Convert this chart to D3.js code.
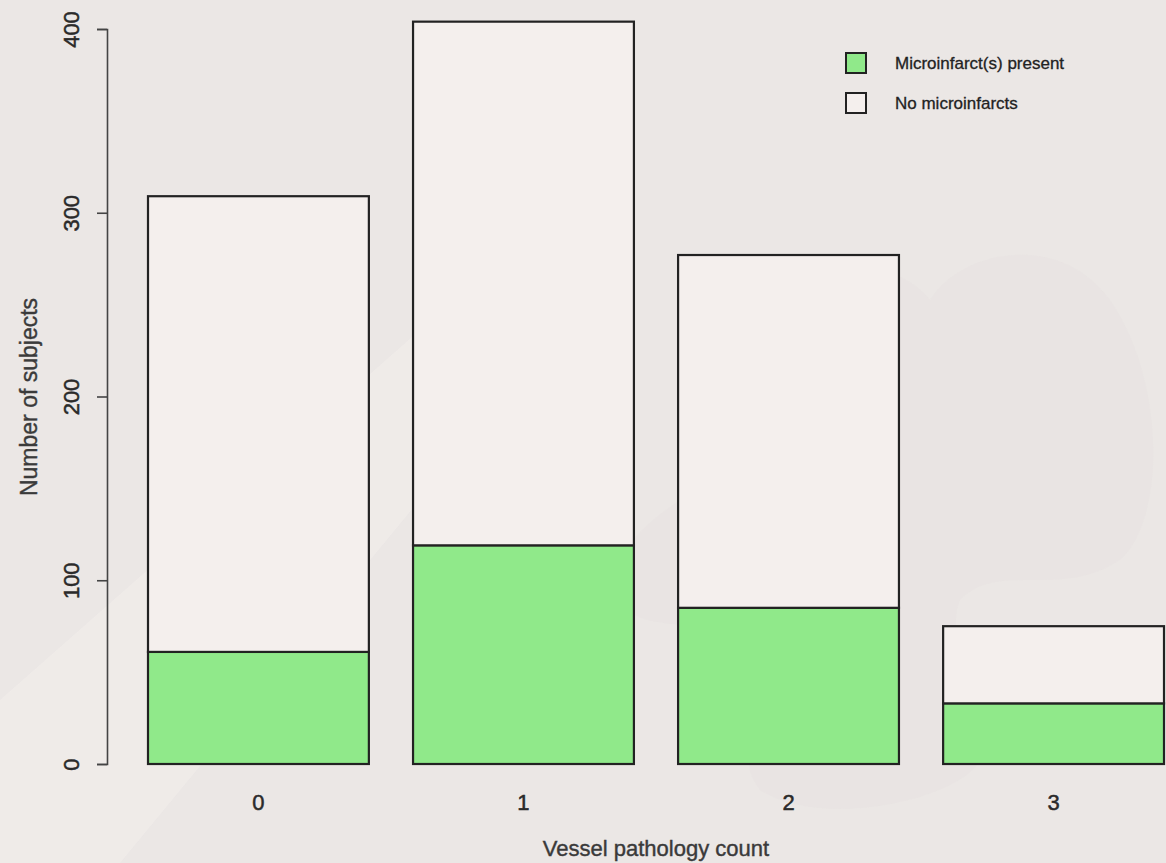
<!DOCTYPE html>
<html>
<head>
<meta charset="utf-8">
<script src="https://cdn.jsdelivr.net/npm/d3@7"></script>
<style>
  html, body { margin: 0; padding: 0; background: #ebe7e5; }
  svg { display: block; font-family: "Liberation Sans", Arial, sans-serif; }
</style>
</head>
<body>
<svg id="chart" width="1166" height="863"></svg>
<script>
// Vessel pathology count vs. number of subjects, split by microinfarct status
const categories = ["0", "1", "2", "3"];
const microinfarcts = [61, 119, 85, 33];
const noMicroinfarcts = [248, 285, 192, 42];
const yTicks = [0, 100, 200, 300, 400];
const seriesNames = ["Microinfarct(s) present", "No microinfarcts"];
const seriesColors = ["#90e98a", "#f4efed"];

const svg = d3.select("#chart");
const W = 1166, H = 863;

// soft background decoration
const bg = svg.append("g");
bg.append("rect").attr("width", W).attr("height", H).attr("fill", "#ebe7e5");
bg.append("path")
  .attr("d", "M0,700 L420,330 L560,330 L120,863 L0,863 Z")
  .attr("fill", "#f1ecea").attr("opacity", 0.7);
bg.append("path")
  .attr("d", "M760,300 C820,250 900,260 930,300 C960,250 1060,230 1110,300 C1166,380 1166,520 1120,560 C1060,600 1000,560 960,600 C940,650 1000,700 980,760 C960,800 820,830 760,790 C720,740 800,690 760,650 C720,610 640,640 620,600 C600,540 680,500 730,470 C780,440 700,360 760,300 Z")
  .attr("fill", "#e4e0df").attr("opacity", 0.35);

const data = categories.map((c, i) => ({
  cat: c,
  values: [microinfarcts[i], noMicroinfarcts[i]]
}));
const stack = d3.stack().keys([0, 1]).value((d, k) => d.values[k]);
const layers = stack(data);

const x = d3.scaleBand().domain(categories).range([148, 1164]).paddingInner(1 / 6).paddingOuter(0);
const y = d3.scaleLinear().domain([0, 400]).range([764, 29]);

// bars
layers.forEach((layer, k) => {
  svg.append("g").selectAll("rect").data(layer).join("rect")
    .attr("x", d => x(d.data.cat))
    .attr("width", x.bandwidth())
    .attr("y", d => y(d[1]))
    .attr("height", d => y(d[0]) - y(d[1]))
    .attr("fill", seriesColors[k])
    .attr("stroke", "#222")
    .attr("stroke-width", 2.2);
});

// y axis
const yAxis = svg.append("g")
  .attr("transform", "translate(107,0)")
  .call(d3.axisLeft(y).tickValues(yTicks).tickSize(10).tickPadding(24).tickFormat(d3.format("d")));
yAxis.select(".domain").attr("stroke", "#444").attr("stroke-width", 1.6);
yAxis.selectAll(".tick line").attr("stroke", "#444").attr("stroke-width", 1.6);
yAxis.selectAll(".tick text")
  .attr("font-size", 22)
  .attr("fill", "#2a2a2a")
  .attr("stroke", "#2a2a2a").attr("stroke-width", 0.5)
  .attr("x", 0).attr("dy", 0)
  .attr("text-anchor", "middle")
  .attr("transform", "translate(-36,0) rotate(-90)")
  .attr("dominant-baseline", "central");

// x category labels
const xAxis = svg.append("g")
  .attr("transform", "translate(0,764)")
  .call(d3.axisBottom(x).tickSize(0).tickPadding(30));
xAxis.select(".domain").remove();
xAxis.selectAll(".tick text").attr("font-size", 22).attr("fill", "#2a2a2a")
  .attr("stroke", "#2a2a2a").attr("stroke-width", 0.5);

// axis titles
svg.append("text")
  .attr("x", 656).attr("y", 856)
  .attr("text-anchor", "middle")
  .attr("font-size", 22).attr("fill", "#3a3a3a")
  .attr("stroke", "#3a3a3a").attr("stroke-width", 0.4)
  .text("Vessel pathology count");
svg.append("text")
  .attr("transform", "translate(37,397) rotate(-90)")
  .attr("text-anchor", "middle")
  .attr("font-size", 23).attr("fill", "#3a3a3a")
  .attr("stroke", "#3a3a3a").attr("stroke-width", 0.4)
  .text("Number of subjects");

// legend
const legend = svg.append("g").attr("transform", "translate(846,53)");
seriesNames.forEach((name, k) => {
  const g = legend.append("g").attr("transform", `translate(0,${k * 40})`);
  g.append("rect").attr("width", 20).attr("height", 20)
    .attr("fill", seriesColors[k]).attr("stroke", "#222").attr("stroke-width", 2);
  g.append("text").attr("x", 49).attr("y", 10)
    .attr("dominant-baseline", "central")
    .attr("font-size", 17).attr("fill", "#222")
    .attr("stroke", "#222").attr("stroke-width", 0.3)
    .text(name);
});
</script>
</body>
</html>
